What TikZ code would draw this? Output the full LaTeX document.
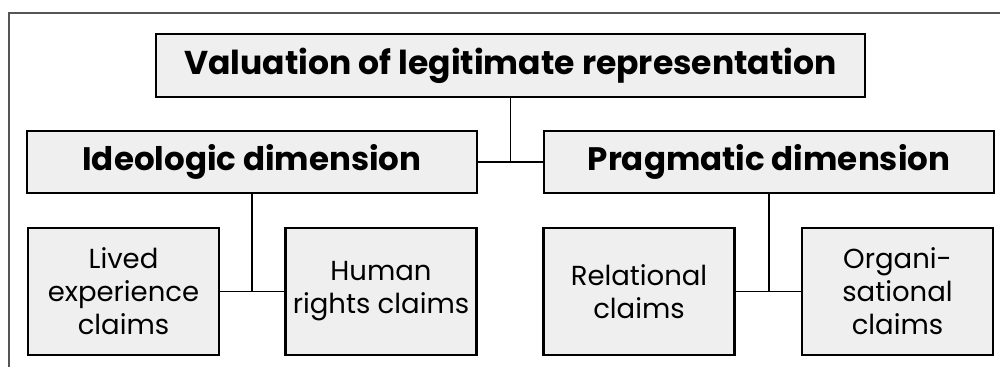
\documentclass[tikz,border=0pt]{standalone}
\usepackage{fontspec}
\setmainfont{Poppins}
\usepackage{tikz}
\usetikzlibrary{positioning}
\definecolor{boxfill}{RGB}{239,239,239}
\definecolor{framecol}{RGB}{85,85,85}

\begin{document}
\begin{tikzpicture}[
   x=1pt, y=-1pt,
   box/.style={draw, fill=boxfill, line width=2.2pt, align=center, inner sep=2pt},
   headbox/.style={box, font=\bfseries\fontsize{33}{38}\selectfont},
   dimbox/.style={box, font=\bfseries\fontsize{32.5}{36}\selectfont,
                  minimum width=450pt, minimum height=62pt},
   claimbox/.style={box, font=\fontsize{27.5}{33}\selectfont,
                    minimum width=191pt, minimum height=127pt},
   link/.style={line width=1.6pt},
]
\useasboundingbox (0,0) rectangle (1000,367);
% frame
\draw[framecol, line width=1.2pt] (1000,13) -- (9,13) -- (9,367);
% top
\node[headbox, minimum width=709pt, minimum height=63pt] (val) at (510.5,65.5)
  {Valuation of legitimate representation};
% dimensions
\node[dimbox] (ideo) at (252,162) {Ideologic dimension};
\node[dimbox] (prag) at (769,162) {Pragmatic dimension};
% claims
\node[claimbox] (lived) at (123.5,291.5) {Lived\\experience\\claims};
\node[claimbox] (human) at (381,291.5) {Human\\rights claims};
\node[claimbox] (rel) at (639,291.5) {Relational\\claims};
\node[claimbox] (org) at (897.5,291.5) {Organi-\\sational\\claims};
% links
\draw[link] (ideo.east) -- (prag.west);
\draw[link] (val) -- (val |- ideo.east);
\draw[link] (lived.east) -- (human.west);
\draw[link] (ideo) -- (ideo |- lived.east);
\draw[link] (rel.east) -- (org.west);
\draw[link] (prag) -- (prag |- rel.east);
\end{tikzpicture}
\end{document}
